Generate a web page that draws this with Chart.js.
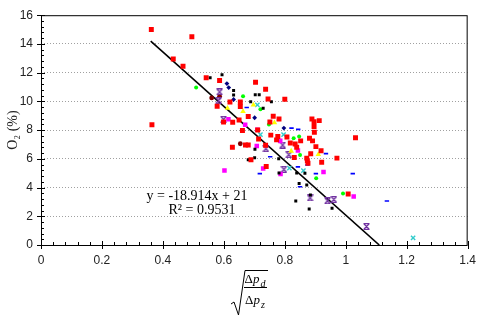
<!DOCTYPE html>
<html>
<head>
<meta charset="utf-8">
<title>O2 vs pressure ratio</title>
<script src="https://cdn.jsdelivr.net/npm/chart.js"></script>
<style>
  html, body { margin: 0; padding: 0; background: #fff; }
</style>
</head>
<body>
<canvas id="o2Chart" width="484" height="318"></canvas>
<script>
// data, [x, O2 %]
const redPts = [[0.362,15.0],[0.495,14.5],[0.434,12.95],[0.466,12.45],[0.542,11.65],[0.586,11.45],[0.620,9.95],[0.578,9.66],
  [0.599,8.57],[0.629,8.55],[0.364,8.37],[0.704,11.33],[0.737,10.84],[0.745,10.17],[0.800,10.15],[0.654,9.95],[0.654,9.64],
  [0.680,8.95],[0.762,8.97],[0.781,8.77],[0.650,8.70],[0.751,8.57],[0.889,8.77],[0.913,8.66],[0.896,8.59],[0.896,8.25],
  [0.897,7.85],[1.032,7.47],[0.711,8.01],[0.661,7.97],[0.754,7.65],[0.777,7.56],[0.807,7.52],[0.714,7.38],[0.773,7.32],
  [0.818,7.10],[0.852,7.25],[0.881,7.43],[0.891,7.25],[0.671,6.96],[0.680,6.96],[0.628,6.81],[0.737,6.94],[0.834,7.03],
  [0.839,6.81],[0.885,6.36],[0.902,6.85],[0.919,6.56],[0.971,6.05],[0.872,6.05],[0.874,5.87],[0.876,5.69],[0.921,5.76],
  [0.831,6.09],[0.689,5.94],[0.739,5.47],[1.008,3.55]];
const blackPts = [[0.555,11.65],[0.594,11.85],[0.632,10.75],[0.632,10.44],[0.703,10.46],[0.716,10.46],[0.688,9.97],[0.756,9.97],
  [0.729,9.52],[0.702,6.67],[0.780,6.00],[0.701,6.07],[0.680,5.94],[0.781,5.02],[0.839,5.02],[0.866,5.00],[0.847,4.28],
  [0.872,4.17],[0.884,3.48],[0.836,3.06],[0.880,2.50],[0.955,2.56]];
const navyPts = [[0.610,11.24],[0.616,10.96],[0.632,10.13],[0.701,8.86],[0.797,8.14]];
const bluePts = [[0.675,9.57],[0.822,8.14],[0.844,8.05],[0.935,6.36],[0.718,4.97],[0.843,5.44],[0.902,4.97],[1.023,4.97],
  [0.850,4.06],[1.135,3.06],[0.752,6.14],[0.874,5.57]];
const magentaPts = [[0.615,8.75],[0.670,8.37],[0.708,6.89],[0.729,5.33],[0.602,5.18],[0.786,4.95],[0.927,5.09],[1.026,3.37],
  [0.710,8.03],[0.785,7.25],[0.843,6.58]];
const greenPts = [[0.509,10.96],[0.663,10.35],[0.720,9.46],[0.748,8.39],[0.829,7.43],[0.847,7.56],[0.850,6.27],[0.903,4.64],[0.991,3.59]];
const yellowPts = [[0.612,9.52],[0.697,9.75],[0.663,9.30],[0.766,8.52],[0.821,6.54],[0.910,6.31]];
const cyanPts = [[0.710,9.75],[0.720,7.68],[0.796,7.68],[0.815,5.35],[0.861,5.18],[1.221,0.49]];
const purplePts = [[0.586,10.66],[0.583,10.06],[0.599,8.75],[0.738,6.71],[0.793,6.96],[0.813,6.29],[0.797,5.27],[0.883,3.28],
  [0.940,3.08],[0.961,3.17],[1.068,1.29]];
const darkRedPts = [[0.586,10.35],[0.560,10.24],[0.654,7.05]];

const trendX = [0.36, 1.11];
const trendY = [14.19, 0.0];
const eqText = 'y = -18.914x + 21';
const r2Text = 'R² = 0.9531';

const xTicks = [0, 0.2, 0.4, 0.6, 0.8, 1, 1.2, 1.4];
const yTicks = [0, 2, 4, 6, 8, 10, 12, 14, 16];

const toXY = pts => pts.map(p => ({x: p[0], y: p[1]}));

// purple "hourglass" marker
const hourglass = document.createElement('canvas');
hourglass.width = 7; hourglass.height = 7;
(function () {
    const c = hourglass.getContext('2d');
    c.strokeStyle = '#7030A0';
    c.lineWidth = 1.2;
    c.beginPath();
    c.moveTo(0.5, 0.6); c.lineTo(6.5, 0.6);
    c.moveTo(0.5, 6.4); c.lineTo(6.5, 6.4);
    c.moveTo(1, 1); c.lineTo(6, 6);
    c.moveTo(6, 1); c.lineTo(1, 6);
    c.stroke();
})();

function scatter(pts, color, style, radius, extra) {
    return Object.assign({
        type: 'scatter',
        data: toXY(pts),
        pointStyle: style,
        pointRadius: radius,
        pointHoverRadius: radius,
        backgroundColor: color,
        borderColor: color,
        borderWidth: 0
    }, extra || {});
}

// frame, tick marks, equation and the x title
const decorations = {
    id: 'decorations',
    afterDraw(chart) {
        const ctx = chart.ctx;
        const a = chart.chartArea;
        const xs = chart.scales.x, ys = chart.scales.y;
        ctx.save();
        ctx.strokeStyle = '#000';
        ctx.lineWidth = 1;
        ctx.strokeRect(a.left + 0.5, a.top + 0.5, a.right - a.left - 1, a.bottom - a.top);

        ctx.beginPath();
        for (let i = 0; i <= 35; i++) {
            const v = i * 0.04;
            const px = Math.round(xs.getPixelForValue(v)) + 0.5;
            if (i % 5 === 0) { ctx.moveTo(px, a.bottom - 4); ctx.lineTo(px, a.bottom + 4); }
            else { ctx.moveTo(px, a.bottom); ctx.lineTo(px, a.bottom - 3); }
        }
        for (let i = 0; i <= 40; i++) {
            const v = i * 0.4;
            const py = Math.round(ys.getPixelForValue(v)) + 0.5;
            if (i % 5 === 0) { ctx.moveTo(a.left - 4, py); ctx.lineTo(a.left + 4, py); }
            else { ctx.moveTo(a.left, py); ctx.lineTo(a.left + 3, py); }
        }
        ctx.stroke();

        // trendline label
        ctx.fillStyle = '#000';
        ctx.font = '14px "Liberation Serif", "DejaVu Serif", serif';
        ctx.textAlign = 'center';
        ctx.textBaseline = 'middle';
        ctx.fillText(eqText, 197, 196);
        ctx.fillText(r2Text, 202, 210);

        // x title: sqrt(Δp_d / Δp_z)
        const cx = 255;
        ctx.beginPath();
        ctx.lineWidth = 1;
        ctx.moveTo(231, 304); ctx.lineTo(234, 302);
        ctx.lineTo(238.5, 315); ctx.lineTo(245, 270.5); ctx.lineTo(268, 270.5);
        ctx.stroke();
        ctx.beginPath();
        ctx.moveTo(244, 287.5); ctx.lineTo(267, 287.5);
        ctx.stroke();
        drawDeltaP(ctx, cx, 280, 'd');
        drawDeltaP(ctx, cx, 301, 'z');
        ctx.restore();
    }
};

function drawDeltaP(ctx, cx, cy, sub) {
    ctx.textBaseline = 'middle';
    ctx.textAlign = 'left';
    const f1 = '13px "Liberation Serif", "DejaVu Serif", serif';
    const f2 = 'italic 13px "Liberation Serif", "DejaVu Serif", serif';
    const f3 = 'italic 10px "Liberation Serif", "DejaVu Serif", serif';
    ctx.font = f1; const w1 = ctx.measureText('Δ').width;
    ctx.font = f2; const w2 = ctx.measureText('p').width;
    ctx.font = f3; const w3 = ctx.measureText(sub).width;
    let x = cx - (w1 + w2 + w3 + 1) / 2;
    ctx.font = f1; ctx.fillText('Δ', x, cy); x += w1;
    ctx.font = f2; ctx.fillText('p', x, cy); x += w2 + 1;
    ctx.font = f3; ctx.fillText(sub, x, cy + 4);
}

const ctx = document.getElementById('o2Chart').getContext('2d');
new Chart(ctx, {
    data: {
        datasets: [
            scatter(redPts, '#FF0000', 'rect', 3.5),
            scatter(blackPts, '#000000', 'rect', 2.1),
            scatter(navyPts, '#000080', 'rectRot', 2.4),
            scatter(bluePts, '#0000FF', 'line', 2.2, {borderWidth: 1.6}),
            scatter(magentaPts, '#FF00FF', 'rect', 3.2),
            scatter(greenPts, '#00FF00', 'circle', 2),
            scatter(yellowPts, '#FFFF00', 'triangle', 3.2),
            scatter(cyanPts, '#33CCCC', 'crossRot', 3, {borderWidth: 1.4}),
            scatter(purplePts, '#7030A0', hourglass, 3.5),
            scatter(darkRedPts, '#800000', 'circle', 2.4),
            {
                type: 'line',
                data: trendX.map((x, i) => ({x: x, y: trendY[i]})),
                borderColor: '#000',
                borderWidth: 1.6,
                pointRadius: 0,
                fill: false
            }
        ]
    },
    options: {
        responsive: false,
        animation: false,
        layout: { padding: { top: 6, right: 11, left: 0, bottom: 0 } },
        plugins: { legend: { display: false }, tooltip: { enabled: false } },
        scales: {
            x: {
                type: 'linear',
                min: 0, max: 1.4,
                afterBuildTicks: s => { s.ticks = xTicks.map(v => ({value: v})); },
                afterFit: s => { s.height = 73; },
                grid: { display: false, drawTicks: false },
                border: { display: false },
                ticks: {
                    padding: 8,
                    color: '#222',
                    font: { family: '"Liberation Sans", Arial, sans-serif', size: 12 },
                    callback: v => String(Math.round(v * 10) / 10)
                }
            },
            y: {
                type: 'linear',
                min: 0, max: 16,
                afterBuildTicks: s => { s.ticks = yTicks.map(v => ({value: v})); },
                afterFit: s => { s.width = 41; },
                grid: {
                    drawTicks: false,
                    color: c => (c.tick && (c.tick.value === 0 || c.tick.value === 16)) ? 'rgba(0,0,0,0)' : '#A0A0A0',
                    lineWidth: 1
                },
                border: { display: false, dash: [1, 2] },
                ticks: {
                    padding: 8,
                    color: '#222',
                    font: { family: '"Liberation Sans", Arial, sans-serif', size: 12 }
                },
                title: {
                    display: true,
                    text: 'O₂ (%)',
                    color: '#222',
                    font: { family: '"Liberation Serif", "DejaVu Serif", serif', size: 14 },
                    padding: { top: 5, bottom: 0 }
                }
            }
        }
    },
    plugins: [decorations]
});
</script>
</body>
</html>
